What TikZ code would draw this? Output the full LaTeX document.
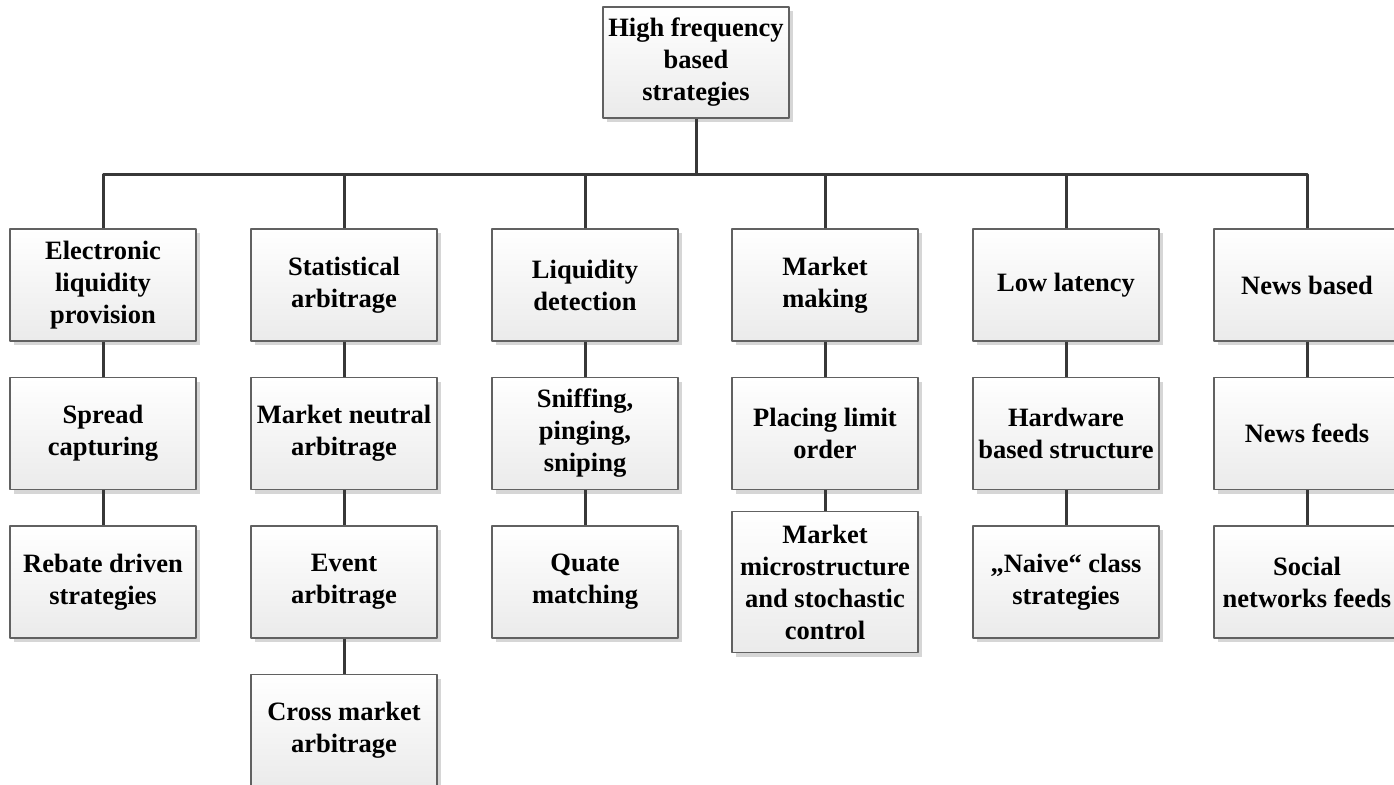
\documentclass[tikz,border=0pt]{standalone}
\usepackage{fontspec}
\setmainfont{Liberation Serif}
\usetikzlibrary{shadows}
\begin{document}
\begin{tikzpicture}[x=1pt,y=1pt,line join=round]
	\tikzset{box/.style={draw=black!62,line width=1.4pt,top color=white,bottom color=black!8,
			drop shadow={shadow xshift=4pt,shadow yshift=-4pt,fill=black!16,opacity=1},
			minimum width=186pt,minimum height=112pt,inner sep=2pt,align=center,
			font=\fontsize{26.5}{32}\selectfont\bfseries},
		conn/.style={draw=black!78,line width=3pt}}
	\clip (0,0) rectangle (1394,-784);
	% root
	\node[box,minimum height=111pt] (hft) at (696,-62.5) {High frequency\\based\\strategies};
	% first level
	\node[box] (elp) at (103,-285) {Electronic\\liquidity\\provision};
	\node[box] (sa) at (344,-285) {Statistical\\arbitrage};
	\node[box] (ld) at (585,-285) {Liquidity\\detection};
	\node[box] (mm) at (825,-285) {Market\\making};
	\node[box] (ll) at (1066,-285) {Low latency};
	\node[box] (nb) at (1307,-285) {News based};
	% second level
	\node[box] (sc) at (103,-433.5) {Spread\\capturing};
	\node[box] (mna) at (344,-433.5) {Market neutral\\arbitrage};
	\node[box] (spp) at (585,-433.5) {Sniffing,\\pinging,\\sniping};
	\node[box] (plo) at (825,-433.5) {Placing limit\\order};
	\node[box] (hbs) at (1066,-433.5) {Hardware\\based structure};
	\node[box] (nf) at (1307,-433.5) {News feeds};
	% third level
	\node[box] (rds) at (103,-582) {Rebate driven\\strategies};
	\node[box] (ea) at (344,-582) {Event\\arbitrage};
	\node[box] (qm) at (585,-582) {Quate\\matching};
	\node[box,minimum height=141pt] (msc) at (825,-582) {Market\\microstructure\\and stochastic\\control};
	\node[box] (ncs) at (1066,-582) {„Naive“ class\\strategies};
	\node[box] (snf) at (1307,-582) {Social\\networks feeds};
	% fourth level
	\node[box] (cma) at (344,-730.5) {Cross market\\arbitrage};
	% connectors
	\coordinate (bus) at (696,-174);
	\begin{scope}[on background layer/.try]
		\draw[conn] (hft.south) -- (bus);
		\draw[conn] (elp.north) -- (elp.north |- bus) -- (nb.north |- bus) -- (nb.north);
		\foreach \top in {sa,ld,mm,ll}
		\draw[conn] (\top.north) -- (\top.north |- bus);
		\draw[conn] (elp) -- (sc) (sc) -- (rds);
		\draw[conn] (sa) -- (mna) (mna) -- (ea) (ea) -- (cma);
		\draw[conn] (ld) -- (spp) (spp) -- (qm);
		\draw[conn] (mm) -- (plo) (plo) -- (msc);
		\draw[conn] (ll) -- (hbs) (hbs) -- (ncs);
		\draw[conn] (nb) -- (nf) (nf) -- (snf);
	\end{scope}
\end{tikzpicture}
\end{document}
